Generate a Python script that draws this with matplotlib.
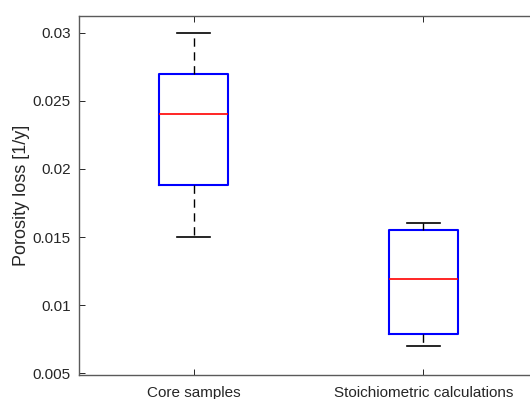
import matplotlib.pyplot as plt
from matplotlib import rcParams

rcParams['font.family'] = ['Liberation Sans', 'DejaVu Sans']

# box statistics per group
groups = ['Core samples', 'Stoichiometric calculations']
whisker_low = [0.015, 0.007]
q1 = [0.0188, 0.0079]
median = [0.024, 0.0119]
q3 = [0.0270, 0.0155]
whisker_high = [0.030, 0.016]

stats = []
for i, name in enumerate(groups):
    stats.append({'label': name, 'whislo': whisker_low[i], 'q1': q1[i],
                  'med': median[i], 'q3': q3[i], 'whishi': whisker_high[i],
                  'fliers': []})

fig = plt.figure(figsize=(5.30, 3.99), dpi=100, facecolor='white')
# axes runs a little past the right edge of the figure
ax = fig.add_axes([79 / 530, 24 / 399, 459 / 530, 359 / 399])

ax.bxp(stats, positions=[1, 2], widths=0.3, showfliers=False,
       boxprops=dict(color='#0000ff', linewidth=1.5),
       medianprops=dict(color='#ff0000', linewidth=1.2),
       whiskerprops=dict(color='black', linewidth=1.0, linestyle=(0, (6, 4))),
       capprops=dict(color='black', linewidth=1.2),
       capwidths=0.145)

ax.set_xlim(0.5, 2.5)
ax.set_ylim(0.00488, 0.03122)
ax.set_yticks([0.005, 0.01, 0.015, 0.02, 0.025, 0.03])
ax.set_yticklabels(['0.005', '0.01', '0.015', '0.02', '0.025', '0.03'])
ax.set_xticks([1, 2])
ax.set_xticklabels(groups)

ax.tick_params(direction='in', length=4, width=0.7, colors='#262626',
               labelsize=11, top=True, right=True, pad=6)
ax.tick_params(axis='x', pad=8)
for s in ax.spines.values():
    s.set_color('#5a5a5a')
    s.set_linewidth(1.0)

ax.set_ylabel('Porosity loss [1/y]', fontsize=13, color='#262626', labelpad=2)

fig.savefig('out.png', dpi=100)
